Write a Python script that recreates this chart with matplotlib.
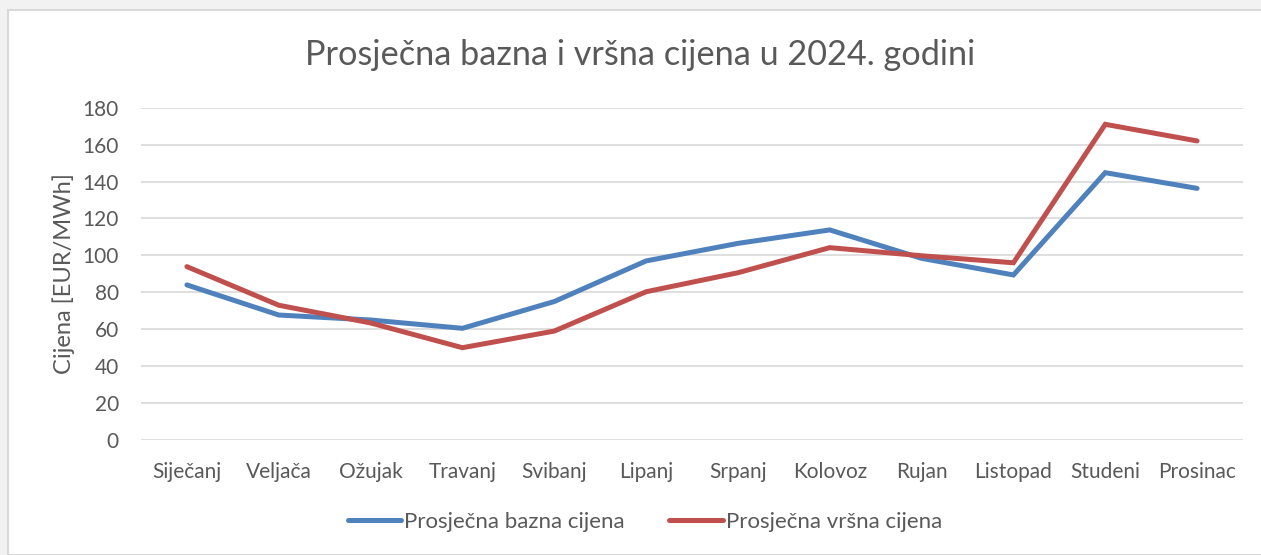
import matplotlib.pyplot as plt
from matplotlib.patches import Rectangle

months = ['Siječanj', 'Veljača', 'Ožujak', 'Travanj', 'Svibanj', 'Lipanj',
          'Srpanj', 'Kolovoz', 'Rujan', 'Listopad', 'Studeni', 'Prosinac']
base_price = [84, 67.7, 65, 60.5, 75, 97, 106.5, 113.8, 98.4, 89.4, 144.8, 136.3]
peak_price = [93.9, 73, 63.4, 50, 59, 80.3, 90.6, 104.2, 99.8, 96, 171, 162]
yticks = list(range(0, 181, 20))

BLUE = '#4f81bd'
RED = '#c0504d'
TEXT = '#595959'
GRID = '#d9d9d9'

plt.rcParams['font.family'] = ['Lato', 'DejaVu Sans']

W, H = 1261, 555
fig = plt.figure(figsize=(W / 100, H / 100), dpi=100)
fig.patch.set_facecolor('#f2f2f2')

# white chart area with a thin grey frame
fig.patches.append(Rectangle((8 / W, 0), 1, 1 - 10 / H, transform=fig.transFigure,
                             facecolor='white', edgecolor=GRID, linewidth=1.5, zorder=-10))

ax = fig.add_axes([141 / W, 1 - 440 / H, (1243 - 141) / W, (440 - 107.7) / H])
ax.set_facecolor('none')

x = list(range(len(months)))
ax.plot(x, base_price, color=BLUE, linewidth=3.6, solid_capstyle='round',
        solid_joinstyle='miter', label='Prosječna bazna cijena', zorder=3)
ax.plot(x, peak_price, color=RED, linewidth=3.6, solid_capstyle='round',
        solid_joinstyle='miter', label='Prosječna vršna cijena', zorder=3)

ax.set_xlim(-0.5, len(months) - 0.5)
ax.set_ylim(0, 180)
ax.set_yticks(yticks)
ax.set_xticks(x)
ax.set_xticklabels(months)
ax.grid(axis='y', color=GRID, linewidth=1.2)
ax.set_axisbelow(True)
for s in ax.spines.values():
    s.set_visible(False)
ax.tick_params(length=0, labelsize=15, labelcolor=TEXT)
ax.tick_params(axis='y', pad=16)
ax.tick_params(axis='x', pad=16)

ax.set_ylabel('Cijena [EUR/MWh]', fontsize=17, color=TEXT, labelpad=5)

fig.text(640 / W, 1 - 55 / H, 'Prosječna bazna i vršna cijena u 2024. godini',
         ha='center', va='center', fontsize=24.7, color=TEXT)

leg = fig.legend(loc='center', bbox_to_anchor=(645 / W, 1 - 522 / H), ncol=2,
                 frameon=False, fontsize=16, handlelength=2.4, handletextpad=0.15,
                 columnspacing=2.0)
for t in leg.get_texts():
    t.set_color(TEXT)

fig.savefig('out.png', dpi=100)
